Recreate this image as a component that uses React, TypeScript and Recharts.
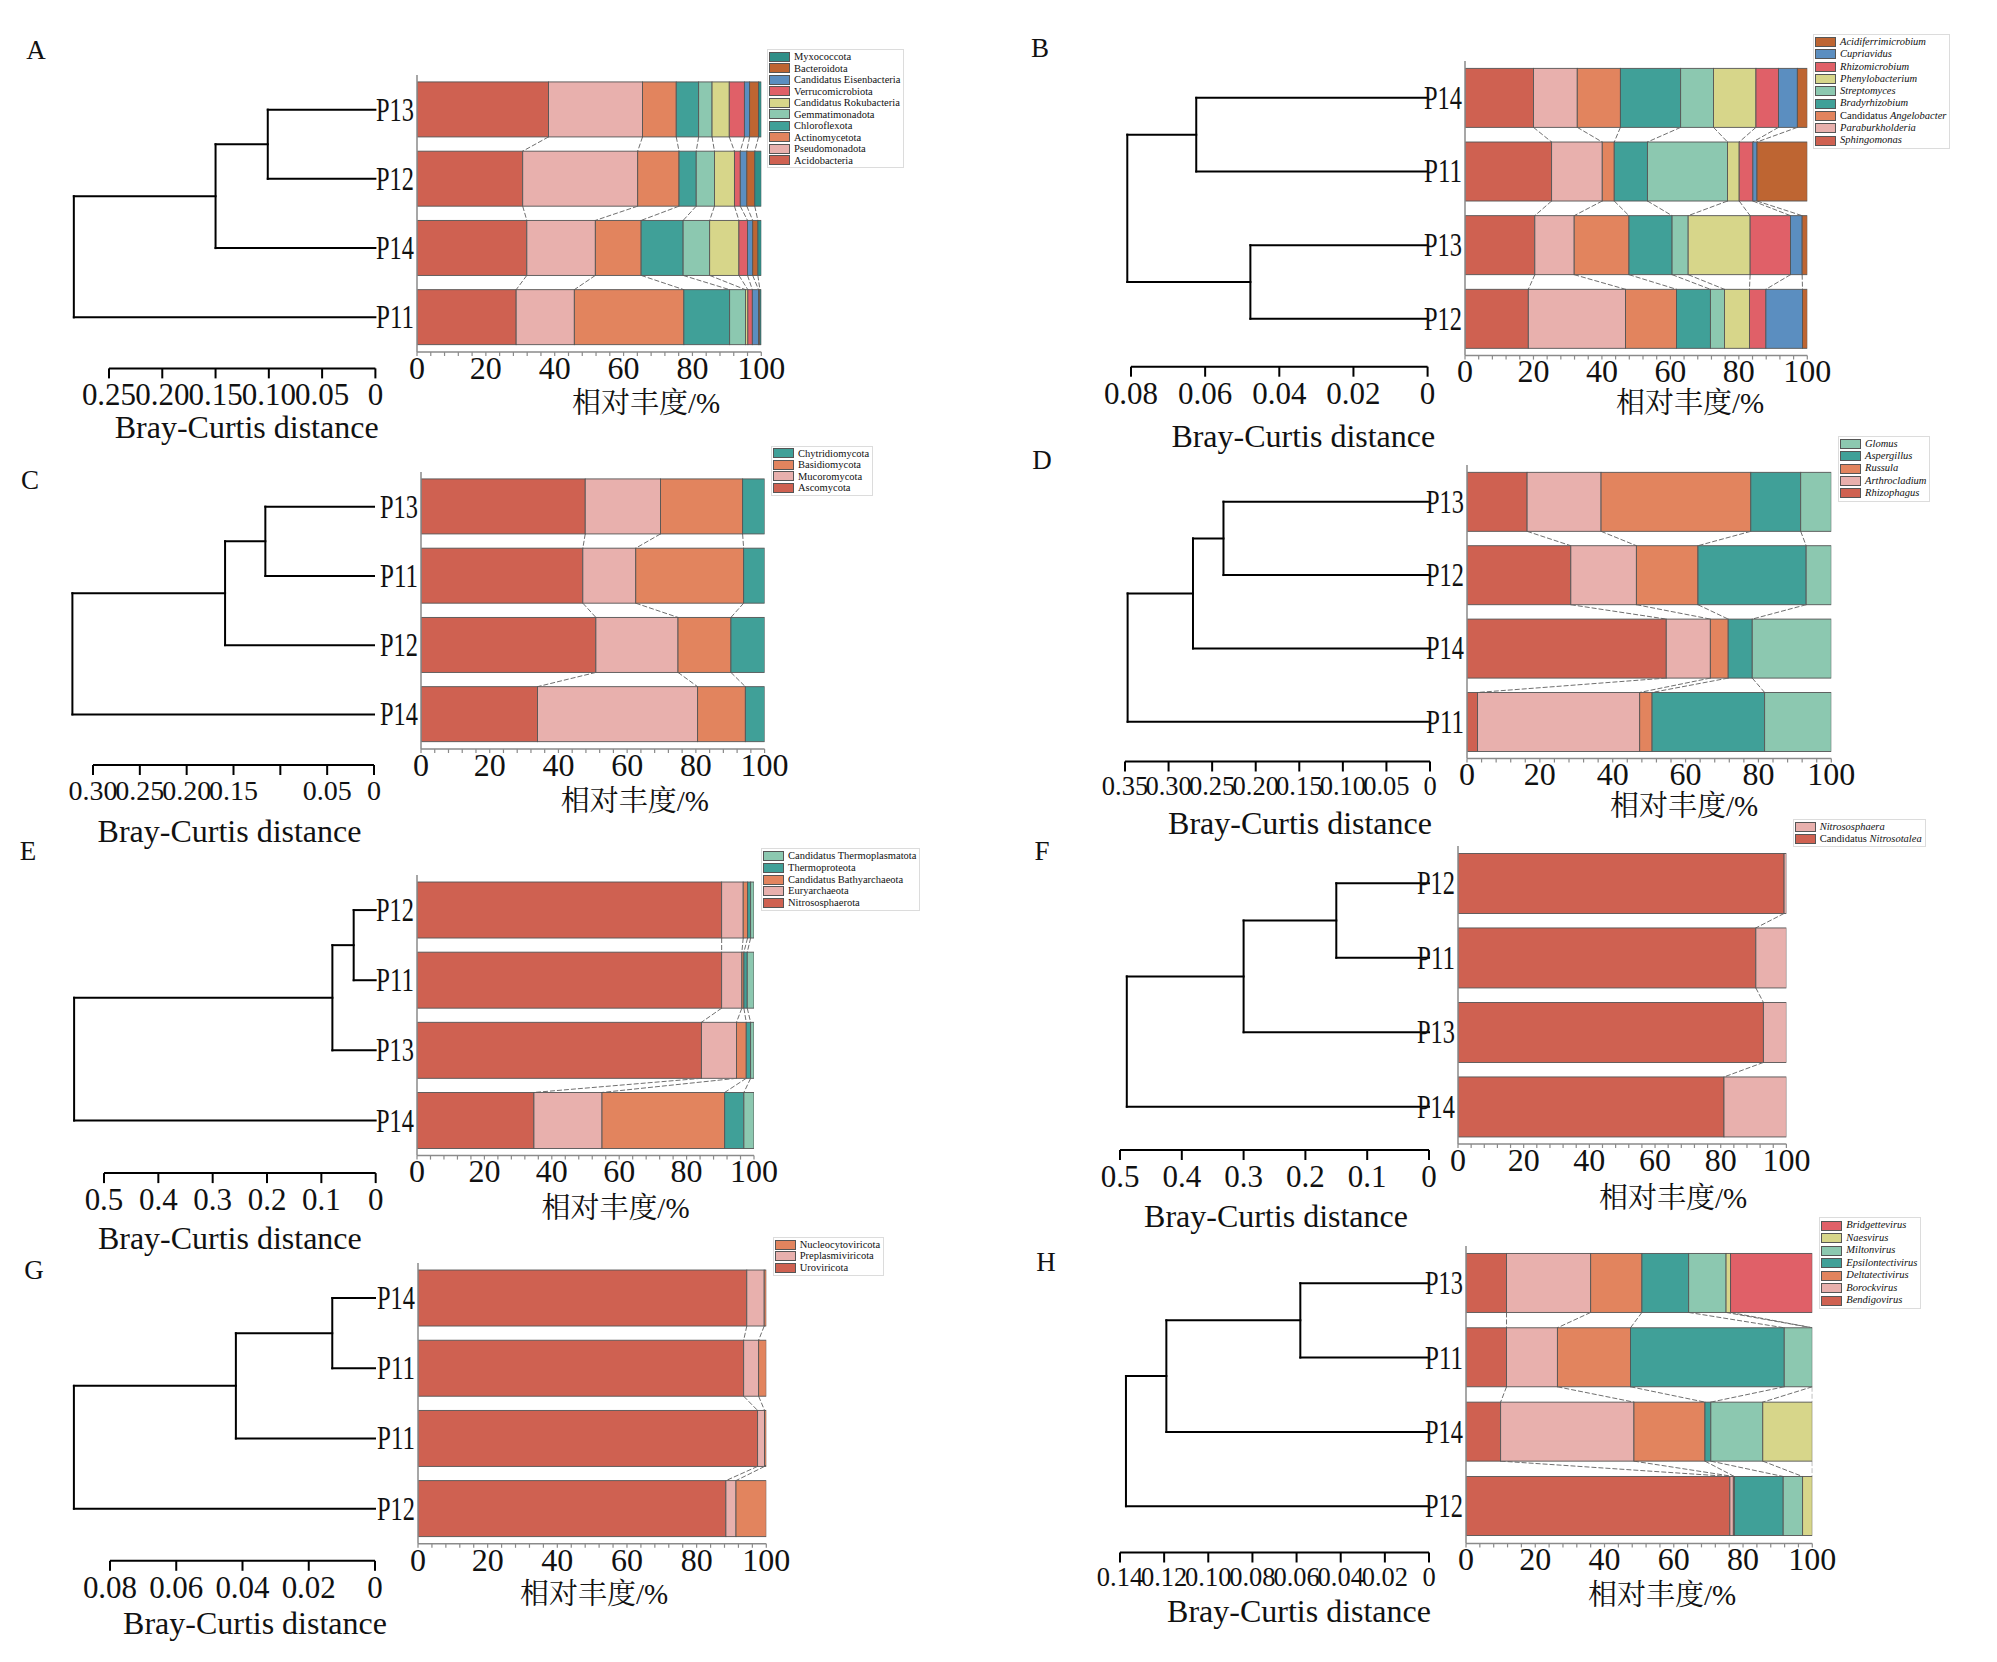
import React from 'react';
import { BarChart, Bar, XAxis, YAxis, LineChart, ReferenceLine, Legend, Label } from 'recharts';

const SERIF = "'Liberation Serif', 'Times New Roman', serif";
const CJK = "'Liberation Serif', 'Noto Serif CJK SC', 'Noto Sans CJK SC', serif";

const PALETTE = ['#CF6151', '#E8B0AD', '#E2845E', '#40A098', '#8CC8B0', '#D7D68A', '#E06068', '#5B8EC0', '#BE6532', '#2F8F88'];

const PCT_TICKS = [0, 4, 8, 12, 16, 20, 24, 28, 32, 36, 40, 44, 48, 52, 56, 60, 64, 68, 72, 76, 80, 84, 88, 92, 96, 100];
const PCT_LABELS = [0, 20, 40, 60, 80, 100];

// ---------- Panel A ----------
const A_SAMPLES = ['P13', 'P12', 'P14', 'P11'];
const A_TAXA = ['Acidobacteria', 'Pseudomonadota', 'Actinomycetota', 'Chloroflexota', 'Gemmatimonadota', 'Candidatus Rokubacteria', 'Verrucomicrobiota', 'Candidatus Eisenbacteria', 'Bacteroidota', 'Myxococcota'];
const A_VALUES = [
  [38.2, 30.7, 31.9, 28.8],
  [27.3, 33.4, 19.9, 16.9],
  [9.8, 12.0, 13.3, 31.8],
  [6.5, 5.0, 12.2, 13.3],
  [3.9, 5.3, 7.7, 4.6],
  [5.0, 5.8, 8.5, 0.7],
  [4.4, 1.7, 2.5, 1.3],
  [1.5, 1.9, 1.5, 1.8],
  [2.6, 2.3, 1.5, 0.4],
  [0.8, 1.9, 1.0, 0.4],
];
const A_MERGES: [number, number, number][] = [[0, 1, 0.101], [4, 2, 0.15], [5, 3, 0.283]];
const A_DIST_TICKS = [0.25, 0.2, 0.15, 0.1, 0.05, 0];
const A_DIST_LABELS = ['0.25', '0.20', '0.15', '0.10', '0.05', '0'];

// ---------- Panel B ----------
const B_SAMPLES = ['P14', 'P11', 'P13', 'P12'];
const B_TAXA = ['Sphingomonas', 'Paraburkholderia', 'Candidatus Angelobacter', 'Bradyrhizobium', 'Streptomyces', 'Phenylobacterium', 'Rhizomicrobium', 'Cupriavidus', 'Acidiferrimicrobium'];
const B_VALUES = [
  [20.0, 25.3, 20.4, 18.5],
  [12.8, 14.8, 11.5, 28.4],
  [12.6, 3.5, 16.0, 14.9],
  [17.6, 9.7, 12.6, 9.9],
  [9.6, 23.4, 4.7, 4.1],
  [12.4, 3.4, 18.1, 7.3],
  [6.6, 4.0, 11.8, 4.8],
  [5.5, 1.2, 3.4, 10.7],
  [2.9, 14.7, 1.5, 1.4],
];
const B_MERGES: [number, number, number][] = [[0, 1, 0.0624], [2, 3, 0.0478], [4, 5, 0.081]];
const B_DIST_TICKS = [0.08, 0.06, 0.04, 0.02, 0];
const B_DIST_LABELS = ['0.08', '0.06', '0.04', '0.02', '0'];

// ---------- Panel C ----------
const C_SAMPLES = ['P13', 'P11', 'P12', 'P14'];
const C_TAXA = ['Ascomycota', 'Mucoromycota', 'Basidiomycota', 'Chytridiomycota'];
const C_VALUES = [
  [47.8, 47.1, 50.9, 33.9],
  [21.9, 15.4, 23.9, 46.6],
  [23.9, 31.4, 15.4, 13.9],
  [6.4, 6.1, 9.8, 5.6],
];
const C_MERGES: [number, number, number][] = [[0, 1, 0.116], [4, 2, 0.159], [5, 3, 0.322]];
const C_DIST_TICKS = [0.3, 0.25, 0.2, 0.15, 0.1, 0.05, 0];
const C_DIST_LABELS = ['0.30', '0.25', '0.20', '0.15', '', '0.05', '0'];

// ---------- Panel D ----------
const D_SAMPLES = ['P13', 'P12', 'P14', 'P11'];
const D_TAXA = ['Rhizophagus', 'Arthrocladium', 'Russula', 'Aspergillus', 'Glomus'];
const D_VALUES = [
  [16.5, 28.5, 54.7, 2.9],
  [20.3, 18.0, 12.1, 44.5],
  [41.1, 16.9, 4.9, 3.4],
  [13.7, 29.7, 6.6, 30.9],
  [8.4, 6.9, 21.7, 18.3],
];
const D_MERGES: [number, number, number][] = [[0, 1, 0.237], [4, 2, 0.272], [5, 3, 0.347]];
const D_DIST_TICKS = [0.35, 0.3, 0.25, 0.2, 0.15, 0.1, 0.05, 0];
const D_DIST_LABELS = ['0.35', '0.30', '0.25', '0.20', '0.15', '0.10', '0.05', '0'];

// ---------- Panel E ----------
const E_SAMPLES = ['P12', 'P11', 'P13', 'P14'];
const E_TAXA = ['Nitrososphaerota', 'Euryarchaeota', 'Candidatus Bathyarchaeota', 'Thermoproteota', 'Candidatus Thermoplasmatota'];
const E_VALUES = [
  [90.4, 90.4, 84.4, 34.7],
  [6.4, 6.0, 10.4, 20.2],
  [1.3, 0.6, 2.9, 36.4],
  [0.9, 1.0, 1.3, 5.7],
  [1.0, 2.0, 1.0, 3.0],
];
const E_MERGES: [number, number, number][] = [[0, 1, 0.0405], [4, 2, 0.0797], [5, 3, 0.555]];
const E_DIST_TICKS = [0.5, 0.4, 0.3, 0.2, 0.1, 0];
const E_DIST_LABELS = ['0.5', '0.4', '0.3', '0.2', '0.1', '0'];

// ---------- Panel F ----------
const F_SAMPLES = ['P12', 'P11', 'P13', 'P14'];
const F_TAXA = ['Candidatus Nitrosotalea', 'Nitrososphaera'];
const F_VALUES = [
  [99.3, 90.7, 93.0, 81.0],
  [0.7, 9.3, 7.0, 19.0],
];
const F_MERGES: [number, number, number][] = [[0, 1, 0.15], [4, 2, 0.3], [5, 3, 0.489]];
const F_DIST_TICKS = [0.5, 0.4, 0.3, 0.2, 0.1, 0];
const F_DIST_LABELS = ['0.5', '0.4', '0.3', '0.2', '0.1', '0'];

// ---------- Panel G ----------
const G_SAMPLES = ['P14', 'P11', 'P11', 'P12'];
const G_TAXA = ['Uroviricota', 'Preplasmiviricota', 'Nucleocytoviricota'];
const G_VALUES = [
  [94.4, 93.5, 97.5, 88.4],
  [5.0, 4.3, 2.0, 2.9],
  [0.6, 2.2, 0.5, 8.7],
];
const G_MERGES: [number, number, number][] = [[0, 1, 0.0129], [4, 2, 0.042], [5, 3, 0.0909]];
const G_DIST_TICKS = [0.08, 0.06, 0.04, 0.02, 0];
const G_DIST_LABELS = ['0.08', '0.06', '0.04', '0.02', '0'];

// ---------- Panel H ----------
const H_SAMPLES = ['P13', 'P11', 'P14', 'P12'];
const H_TAXA = ['Bendigovirus', 'Borockvirus', 'Deltatectivirus', 'Epsilontectivirus', 'Miltonvirus', 'Naesvirus', 'Bridgettevirus'];
const H_VALUES = [
  [11.7, 11.7, 10.0, 76.2],
  [24.3, 14.7, 38.5, 1.0],
  [14.8, 21.1, 20.5, 0.3],
  [13.5, 44.4, 1.7, 14.1],
  [10.8, 8.1, 15.0, 5.6],
  [1.3, 0, 14.3, 2.8],
  [23.6, 0, 0, 0],
];
const H_MERGES: [number, number, number][] = [[0, 1, 0.0583], [4, 2, 0.119], [5, 3, 0.1373]];
const H_DIST_TICKS = [0.14, 0.12, 0.1, 0.08, 0.06, 0.04, 0.02, 0];
const H_DIST_LABELS = ['0.14', '0.12', '0.10', '0.08', '0.06', '0.04', '0.02', '0'];

type Layout = {
  plot: [number, number, number, number];
  barTitleBase: number;
  barTitleDx: number;
  dend: [number, number];
  dendAxisY: number;
  dendTitleBase: number;
  dendTitleDx: number;
  dendFont: number;
  legend: [number, number];
  legendItemH: number;
  letterPos: [number, number];
};

type PanelDef = {
  letter: string;
  samples: string[];
  taxa: string[];
  values: number[][];
  merges: [number, number, number][];
  distTicks: number[];
  distLabels: string[];
  italic: boolean;
  layout: Layout;
};

const PANELS: PanelDef[] = [
  {
    letter: 'A', samples: A_SAMPLES, taxa: A_TAXA, values: A_VALUES, merges: A_MERGES, distTicks: A_DIST_TICKS, distLabels: A_DIST_LABELS, italic: false,
    layout: { plot: [416.7, 761, 74.9, 351.9], barTitleBase: 413, barTitleDx: 57, dend: [109.3, 375.7], dendAxisY: 368.3, dendTitleBase: 438, dendTitleDx: 4.5, dendFont: 31, legend: [767, 49], legendItemH: 11.5, letterPos: [36, 50] },
  },
  {
    letter: 'B', samples: B_SAMPLES, taxa: B_TAXA, values: B_VALUES, merges: B_MERGES, distTicks: B_DIST_TICKS, distLabels: B_DIST_LABELS, italic: true,
    layout: { plot: [1465, 1807.3, 61, 355.6], barTitleBase: 413, barTitleDx: 54, dend: [1130.7, 1427.3], dendAxisY: 366.7, dendTitleBase: 447, dendTitleDx: 24, dendFont: 31, legend: [1813, 34], legendItemH: 12.3, letterPos: [1040, 48] },
  },
  {
    letter: 'C', samples: C_SAMPLES, taxa: C_TAXA, values: C_VALUES, merges: C_MERGES, distTicks: C_DIST_TICKS, distLabels: C_DIST_LABELS, italic: false,
    layout: { plot: [420.7, 764.3, 471.5, 748.5], barTitleBase: 811, barTitleDx: 42, dend: [93.3, 374.3], dendAxisY: 764.5, dendTitleBase: 841, dendTitleDx: -4, dendFont: 28, legend: [771, 445.7], legendItemH: 11.5, letterPos: [30, 480] },
  },
  {
    letter: 'D', samples: D_SAMPLES, taxa: D_TAXA, values: D_VALUES, merges: D_MERGES, distTicks: D_DIST_TICKS, distLabels: D_DIST_LABELS, italic: true,
    layout: { plot: [1466.7, 1831, 464.5, 758], barTitleBase: 816, barTitleDx: 35, dend: [1125, 1430], dendAxisY: 761, dendTitleBase: 833.5, dendTitleDx: 22.5, dendFont: 26.5, legend: [1838, 435.7], legendItemH: 12.4, letterPos: [1042, 460] },
  },
  {
    letter: 'E', samples: E_SAMPLES, taxa: E_TAXA, values: E_VALUES, merges: E_MERGES, distTicks: E_DIST_TICKS, distLabels: E_DIST_LABELS, italic: false,
    layout: { plot: [417.3, 754.3, 875.4, 1156], barTitleBase: 1218, barTitleDx: 30, dend: [104.3, 376], dendAxisY: 1173.5, dendTitleBase: 1249.5, dendTitleDx: -10, dendFont: 31, legend: [761, 848.3], legendItemH: 11.7, letterPos: [28, 851] },
  },
  {
    letter: 'F', samples: F_SAMPLES, taxa: F_TAXA, values: F_VALUES, merges: F_MERGES, distTicks: F_DIST_TICKS, distLabels: F_DIST_LABELS, italic: true,
    layout: { plot: [1458.3, 1786.7, 846, 1144], barTitleBase: 1208, barTitleDx: 51, dend: [1120, 1429], dendAxisY: 1150, dendTitleBase: 1226.5, dendTitleDx: 1.5, dendFont: 31, legend: [1792.7, 819], legendItemH: 12.2, letterPos: [1042, 851] },
  },
  {
    letter: 'G', samples: G_SAMPLES, taxa: G_TAXA, values: G_VALUES, merges: G_MERGES, distTicks: G_DIST_TICKS, distLabels: G_DIST_LABELS, italic: false,
    layout: { plot: [417.7, 766, 1263.2, 1544], barTitleBase: 1604, barTitleDx: 2, dend: [110, 375], dendAxisY: 1561, dendTitleBase: 1634.5, dendTitleDx: 12.5, dendFont: 31, legend: [772.7, 1236.7], legendItemH: 11.7, letterPos: [34, 1270] },
  },
  {
    letter: 'H', samples: H_SAMPLES, taxa: H_TAXA, values: H_VALUES, merges: H_MERGES, distTicks: H_DIST_TICKS, distLabels: H_DIST_LABELS, italic: true,
    layout: { plot: [1466, 1812.3, 1246, 1543.4], barTitleBase: 1605.5, barTitleDx: 23, dend: [1120, 1429], dendAxisY: 1552.5, dendTitleBase: 1621.5, dendTitleDx: 24.5, dendFont: 26.5, legend: [1819.3, 1217.3], legendItemH: 12.5, letterPos: [1046, 1262] },
  },
];

function buildRows(samples: string[], values: number[][]) {
  return samples.map((label, i) => {
    const row: Record<string, any> = { id: `r${i}`, label };
    values.forEach((vals, k) => {
      row[`s${k}`] = vals[i];
    });
    return row;
  });
}

function cumulative(values: number[][], k: number, row: number) {
  let c = 0;
  for (let j = 0; j <= k; j++) c += values[j][row];
  return c;
}

function dendroSegments(merges: [number, number, number][], nLeaves: number) {
  const nodes = Array.from({ length: nLeaves }, (_, i) => ({ y: i, h: 0 }));
  const segs: { x: number; y: number }[][] = [];
  for (const [a, b, h] of merges) {
    const A = nodes[a];
    const B = nodes[b];
    segs.push([{ x: A.h, y: A.y }, { x: h, y: A.y }]);
    segs.push([{ x: B.h, y: B.y }, { x: h, y: B.y }]);
    segs.push([{ x: h, y: A.y }, { x: h, y: B.y }]);
    nodes.push({ y: (A.y + B.y) / 2, h });
  }
  return segs;
}

function renderName(name: string, italic: boolean) {
  if (!italic) return name;
  if (name.startsWith('Candidatus ')) {
    return (
      <>
        Candidatus <i>{name.slice(11)}</i>
      </>
    );
  }
  return <i>{name}</i>;
}

function LegendBox({ taxa, italic, itemH }: { taxa: string[]; italic: boolean; itemH: number }) {
  const items = taxa.map((name, k) => ({ name, color: PALETTE[k] })).reverse();
  return (
    <div
      style={{
        border: '1px solid #dcdcdc',
        padding: '1px 3px 1px 1px',
        background: '#fff',
        fontFamily: SERIF,
        fontSize: 10.5,
        color: '#111',
        whiteSpace: 'nowrap',
      }}
    >
      {items.map((it, idx) => (
        <div key={idx} style={{ display: 'flex', alignItems: 'center', height: itemH, lineHeight: `${itemH}px` }}>
          <span
            style={{
              display: 'inline-block',
              width: 21,
              height: 10,
              background: it.color,
              border: '1px solid #555',
              boxSizing: 'border-box',
              marginRight: 4,
            }}
          />
          <span>{renderName(it.name, italic)}</span>
        </div>
      ))}
    </div>
  );
}

function BarPart({ p }: { p: PanelDef }) {
  const L = p.layout;
  const n = p.samples.length;
  const rows = buildRows(p.samples, p.values);
  const mL = 62;
  const mT = 12;
  const mR = 34;
  const mB = 8;
  const plotW = L.plot[1] - L.plot[0];
  const plotH = L.plot[3] - L.plot[2];
  const band = plotH / n;
  const kx = plotW / 100;
  const xAxisH = L.barTitleBase - L.plot[3];
  const W = plotW + mL + mR;
  const H = plotH + mT + xAxisH + mB;
  const left = L.plot[0] - mL;
  const top = L.plot[2] - mT;
  const labelOf = (id: string) => rows.find((r) => r.id === id)?.label ?? id;
  const nSeries = p.values.length;

  const makeShape = (k: number) => (sp: any) => {
    const x = Number(sp.x);
    const y = Number(sp.y);
    const w = Number(sp.width) || 0;
    const h = Number(sp.height) || 0;
    const idx = Number(sp.index);
    const parts: React.ReactNode[] = [
      <rect key="r" x={x} y={y} width={Math.max(w, 0)} height={h} fill={PALETTE[k]} stroke="#555" strokeWidth={0.9} />,
    ];
    if (k < nSeries - 1 && idx < n - 1) {
      const cum = cumulative(p.values, k, idx);
      const cumNext = cumulative(p.values, k, idx + 1);
      const x0 = x + w - cum * kx;
      parts.push(
        <line
          key="l"
          x1={x + w}
          y1={y + h}
          x2={x0 + cumNext * kx}
          y2={y + band}
          stroke="#6e6e6e"
          strokeWidth={1}
          strokeDasharray="5 2"
        />
      );
    }
    return <g>{parts}</g>;
  };

  return (
    <div style={{ position: 'absolute', left, top }}>
      <BarChart
        width={W}
        height={H}
        layout="vertical"
        data={rows}
        margin={{ top: mT, right: mR, bottom: mB, left: 0 }}
        barCategoryGap="10%"
      >
        <XAxis
          type="number"
          domain={[0, 100]}
          allowDataOverflow
          ticks={PCT_TICKS}
          interval={0}
          tickFormatter={(v: number) => (PCT_LABELS.includes(v) ? String(v) : '')}
          height={xAxisH}
          tickSize={4}
          tickMargin={0}
          axisLine={{ stroke: '#8a8a8a', strokeWidth: 1.5 }}
          tickLine={{ stroke: '#8a8a8a', strokeWidth: 1.2 }}
          tick={{ fontSize: 32, fill: '#111', fontFamily: SERIF }}
        >
          <Label value="相对丰度/%" position="insideBottom" offset={0} dx={L.barTitleDx} fontSize={29} fill="#111" fontFamily={CJK} />
        </XAxis>
        <YAxis
          type="category"
          dataKey="id"
          width={mL}
          interval={0}
          tickSize={0}
          tickMargin={3}
          tickLine={false}
          axisLine={{ stroke: '#8a8a8a', strokeWidth: 1.5 }}
          tick={(tp: any) => (
            <text
              x={tp.x}
              y={tp.y}
              textAnchor="end"
              dominantBaseline="central"
              fontSize={33}
              textLength={38}
              lengthAdjust="spacingAndGlyphs"
              fontFamily={SERIF}
              fill="#111"
            >
              {labelOf(tp.payload.value)}
            </text>
          )}
        />
        {p.taxa.map((name, k) => (
          <Bar
            key={name}
            dataKey={`s${k}`}
            name={name}
            stackId="stack"
            fill={PALETTE[k]}
            stroke="#555"
            strokeWidth={0.9}
            shape={makeShape(k)}
            isAnimationActive={false}
          />
        ))}
        <Legend
          layout="horizontal"
          verticalAlign="middle"
          align="center"
          wrapperStyle={{ left: L.legend[0] - left, top: L.legend[1] - top, width: 'auto', height: 'auto' }}
          content={() => <LegendBox taxa={p.taxa} italic={p.italic} itemH={L.legendItemH} />}
        />
      </BarChart>
    </div>
  );
}

function DendroPart({ p }: { p: PanelDef }) {
  const L = p.layout;
  const n = p.samples.length;
  const segs = dendroSegments(p.merges, n);
  const [xMaxPx, xZeroPx] = L.dend;
  const plotTop = L.plot[2];
  const band = (L.plot[3] - L.plot[2]) / n;
  const axisY = L.dendAxisY;
  const mL = 70;
  const mR = 30;
  const mT = 10;
  const mB = 12;
  const xAxisH = L.dendTitleBase - axisY;
  const W = xZeroPx - xMaxPx + mL + mR;
  const H = axisY - plotTop + mT + xAxisH + mB;
  const left = xMaxPx - mL;
  const top = plotTop - mT;
  const yMin = -0.5;
  const yMax = -0.5 + (axisY - plotTop) / band;
  const dmax = p.distTicks[0];
  const leafPts = p.samples.map((s, i) => ({ h: 0, y: i, name: s }));

  return (
    <div style={{ position: 'absolute', left, top }}>
      <LineChart width={W} height={H} data={leafPts} margin={{ top: mT, right: mR, bottom: mB, left: mL }}>
        <XAxis
          type="number"
          dataKey="h"
          domain={[0, dmax]}
          allowDataOverflow
          reversed
          ticks={p.distTicks}
          interval={0}
          tickFormatter={(v: number) => {
            const idx = p.distTicks.findIndex((t) => Math.abs(t - v) < 1e-9);
            return idx >= 0 ? p.distLabels[idx] : '';
          }}
          height={xAxisH}
          tickSize={10}
          tickMargin={5}
          axisLine={{ stroke: '#000', strokeWidth: 2 }}
          tickLine={{ stroke: '#000', strokeWidth: 2 }}
          tick={{ fontSize: L.dendFont, fill: '#111', fontFamily: SERIF }}
        >
          <Label value="Bray-Curtis distance" position="insideBottom" offset={0} dx={L.dendTitleDx} fontSize={32} fill="#111" fontFamily={SERIF} />
        </XAxis>
        <YAxis type="number" dataKey="y" domain={[yMin, yMax]} allowDataOverflow reversed hide />
        {segs.map((seg, i) => (
          <ReferenceLine
            key={`d${i}`}
            segment={seg}
            stroke="#000"
            strokeWidth={2}
            strokeLinecap="square"
            ifOverflow="visible"
          />
        ))}
      </LineChart>
    </div>
  );
}

function Panel({ p }: { p: PanelDef }) {
  const [lx, ly] = p.layout.letterPos;
  return (
    <>
      <div
        style={{
          position: 'absolute',
          left: lx,
          top: ly,
          transform: 'translate(-50%, -50%)',
          fontFamily: SERIF,
          fontSize: 27,
          lineHeight: 1,
          color: '#111',
        }}
      >
        {p.letter}
      </div>
      <DendroPart p={p} />
      <BarPart p={p} />
    </>
  );
}

export default function App() {
  return (
    <div style={{ position: 'absolute', left: 0, top: 0, width: 1997, height: 1662, background: '#fff', overflow: 'hidden' }}>
      {PANELS.map((p) => (
        <Panel key={p.letter} p={p} />
      ))}
    </div>
  );
}
